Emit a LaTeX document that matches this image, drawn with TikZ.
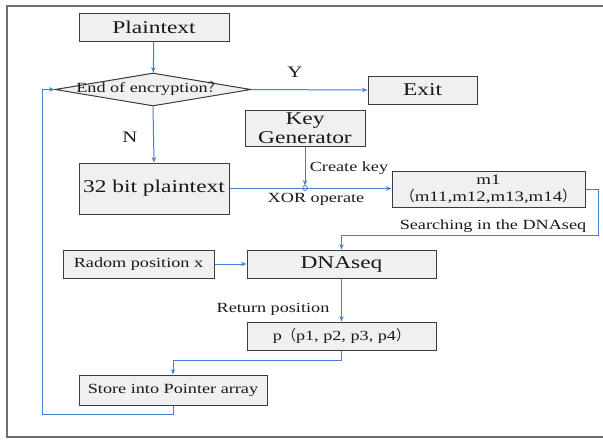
\documentclass[tikz,border=0pt]{standalone}
\usepackage{fontspec}
\setmainfont{Liberation Serif}[FakeStretch=1.3]
\newfontfamily\cjk{Noto Sans CJK SC}
\usetikzlibrary{arrows.meta,shapes.geometric}
\definecolor{flowblue}{RGB}{74,126,212}
\definecolor{boxgray}{RGB}{240,240,240}
\definecolor{edgegray}{RGB}{60,60,60}
\definecolor{framegray}{RGB}{110,110,110}

\begin{document}
\begin{tikzpicture}[x=1pt,y=-1pt,>={Stealth[length=5.5pt,width=4.5pt]},
    blk/.style={draw=edgegray,fill=boxgray,line width=1pt,inner sep=0pt,
      text=black!90,font=\fontsize{18}{19}\selectfont},
    sblk/.style={blk,font=\fontsize{14}{17}\selectfont},
    flow/.style={->,draw=flowblue,line width=1pt},
    lbl/.style={text=black!90,font=\fontsize{14}{16}\selectfont}]
    \useasboundingbox (0,0) rectangle (603,440);
    % ---- frame, open on the right ----
    \draw[framegray,line width=1.3pt] (603,6) -- (7,6) -- (7,437) -- (603,437);
    % ---- boxes ----
    \node[blk,minimum width=150,minimum height=28] (plain) at (154,27) {Plaintext};
    \node[blk,diamond,minimum width=196,minimum height=33] (endq) at (153,89.5) {};
    \node[lbl,font=\fontsize{14}{15}\selectfont] (endtxt) at (149,89) {End of encryption{\cjk ？}};
    \node[blk,minimum width=109,minimum height=28] (exit) at (422.5,90) {Exit};
    \node[blk,minimum width=120,minimum height=36,align=center] (keygen) at (305,128)
      {Key\\Generator};
    \node[blk,minimum width=150,minimum height=51] (bits) at (154,188.5) {32 bit plaintext};
    \node[sblk,font=\fontsize{14.5}{17}\selectfont,minimum width=193,minimum height=36,align=center] (mone) at (488.5,189)
      {m1\\{\cjk （}m11,m12,m13,m14{\cjk ）}};
    \node[sblk,minimum width=151,minimum height=28] (radom) at (138.5,264)
      {Radom position x};
    \node[blk,minimum width=189,minimum height=28] (dna) at (341.5,264) {DNAseq};
    \node[sblk,minimum width=189,minimum height=28] (pbox) at (341.5,336)
      {p{\cjk （}p1, p2, p3, p4{\cjk ）}};
    \node[sblk,minimum width=188,minimum height=30] (store) at (173,390)
      {Store into Pointer array};
    % ---- connectors ----
    \coordinate (xor) at (305,188);
    \coordinate (back) at (42,89.5);
    \draw[flow] (plain) -- (endq);
    \draw[flow] (endq.east) -- (exit.west);
    \draw[flow] (endq.south) -- (bits.north);
    \draw[flow] (bits.east) -- (bits.east -| mone.west);
    \draw[flow,shorten >=2.5pt] (keygen.south) -- (xor);
    \draw[flowblue,line width=0.8pt] (xor) circle (2.5);
    \draw[flow] (mone.east) -| (598,235) -| (dna.north);
    \draw[flow] (radom.east) -- (dna.west);
    \draw[flow] (dna.south) -- (pbox.north);
    \draw[flow] (pbox.south) -- ++(0,10) -| (store.north);
    \draw[flow] (store.south) -- ++(0,9) -| (back) -- (endq.west);
    % ---- labels ----
    \node[lbl,font=\fontsize{16}{18}\selectfont] (yes) at (295,72) {Y};
    \node[lbl,font=\fontsize{16}{18}\selectfont] (no) at (130,137) {N};
    \node[lbl] (create) at (349,168) {Create key};
    \node[lbl] (xorlbl) at (316,199) {XOR operate};
    \node[lbl] (search) at (493,226) {Searching in the DNAseq};
    \node[lbl] (ret) at (273,309) {Return position};
\end{tikzpicture}
\end{document}
